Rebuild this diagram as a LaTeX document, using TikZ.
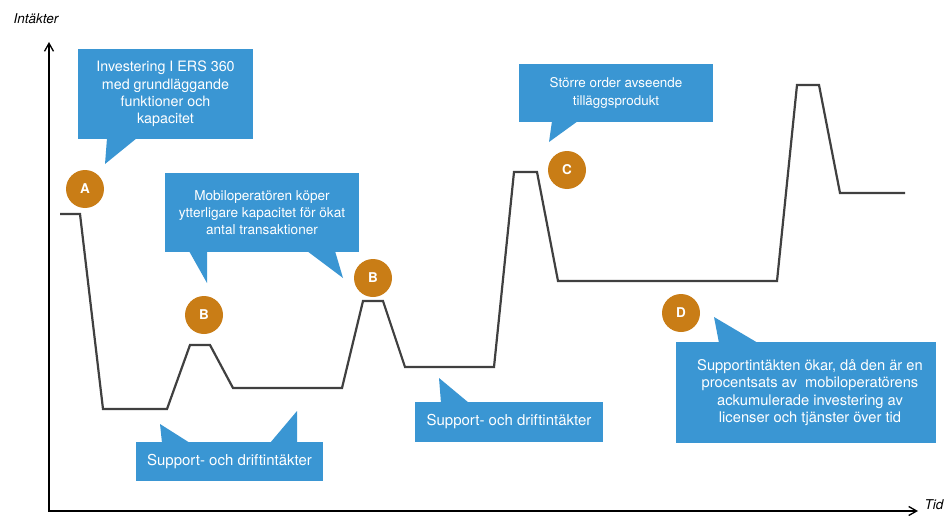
\documentclass[tikz,border=0pt]{standalone}
\usepackage{fontspec}
\setmainfont{TeX Gyre Heros}
\usetikzlibrary{arrows.meta}
\definecolor{calloutblue}{HTML}{3A96D3}
\definecolor{markerorange}{HTML}{C97D16}
\definecolor{curvegray}{HTML}{404040}
\begin{document}
\begin{tikzpicture}[x=1pt,y=-1pt,
  axis/.style={line width=1.3pt,
    {Straight Barb[length=8pt,width=9pt]}-{Straight Barb[length=8pt,width=9pt]}},
  revenue/.style={curvegray,line width=2.2pt},
  callout/.style={fill=calloutblue,text=white,align=center,inner sep=0pt},
  tail/.style={fill=calloutblue},
  marker/.style={circle,fill=markerorange,text=white,minimum size=38pt,
    inner sep=0pt,font=\fontsize{13.5}{14}\selectfont\bfseries},
  axislabel/.style={font=\fontsize{13.5}{16}\selectfont\itshape}
]
\useasboundingbox (0,0) rectangle (944,516);

% axes
\coordinate (origin) at (49,511);
\coordinate (ytip) at (49,42);
\coordinate (xtip) at (918,511);
\draw[axis] (ytip) -- (origin) -- (xtip);
\node[axislabel] (ylabel) at (36,19) {Intäkter};
\node[axislabel] (xlabel) at (934,505) {Tid};

% revenue over time
\draw[revenue] (60,214) -- (80,214) -- (103,409) -- (167,409) -- (190,345)
  -- (210,345) -- (233,388) -- (342,388) -- (363,301) -- (383,301)
  -- (405,367) -- (494,367) -- (514,172) -- (537,172) -- (558,281)
  -- (777,281) -- (797,85) -- (819,85) -- (840,193) -- (905,193);

% phase markers
\node[marker] (mA) at (85,189) {A};
\node[marker] (mB1) at (204,315) {B};
\node[marker] (mB2) at (373,278) {B};
\node[marker] (mC) at (567,170) {C};
\node[marker] (mD) at (681,313) {D};

% callouts
\node[callout,minimum width=175pt,minimum height=90pt,
  font=\fontsize{14.3}{17.3}\selectfont] (boxA) at (165.5,94)
  {Investering I ERS 360\\med grundläggande\\funktioner och\\kapacitet};
\fill[tail] (107,138) -- (105,164) -- (137,138) -- cycle;

\node[callout,minimum width=194pt,minimum height=79pt,
  font=\fontsize{13.6}{17}\selectfont] (boxB) at (262,212.5)
  {Mobiloperatören köper\\ytterligare kapacitet för ökat\\antal transaktioner};
\fill[tail] (189,251) -- (207,283) -- (207,251) -- cycle;
\fill[tail] (307,251) -- (343,278) -- (335,251) -- cycle;

\node[callout,minimum width=187pt,minimum height=39pt,
  font=\fontsize{15}{17}\selectfont] (boxS1) at (229.5,461.5)
  {Support- och driftintäkter};
\fill[tail] (162,443) -- (160,424) -- (190,443) -- cycle;
\fill[tail] (270,443) -- (297,411) -- (297,443) -- cycle;

\node[callout,minimum width=188pt,minimum height=40pt,
  font=\fontsize{15}{17}\selectfont] (boxS2) at (509,422)
  {Support- och driftintäkter};
\fill[tail] (441,403) -- (439,378) -- (469,403) -- cycle;

\node[callout,minimum width=194pt,minimum height=58pt,
  font=\fontsize{13.4}{17.5}\selectfont] (boxC) at (616,93)
  {Större order avseende\\tilläggsprodukt};
\fill[tail] (552,121) -- (549,142) -- (578,121) -- cycle;

\node[callout,minimum width=260pt,minimum height=101pt] (boxD) at (806,392.5) {};
\node[text=white,align=center,inner sep=0pt,
  font=\fontsize{14.7}{17.2}\selectfont] (txtD) at (810,392.5)
  {Supportintäkten ökar, då den är en\\procentsats av\ \ mobiloperatörens\\ackumulerade investering av\\licenser och tjänster över tid};
\fill[tail] (719,343) -- (714,317) -- (758,343) -- cycle;
\end{tikzpicture}
\end{document}
